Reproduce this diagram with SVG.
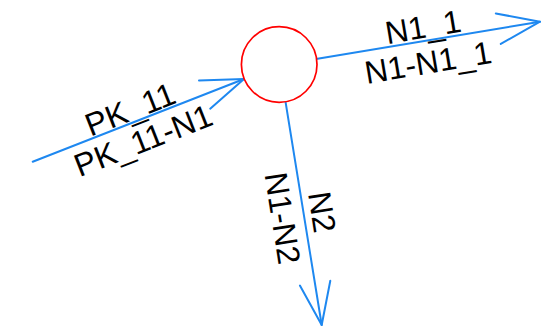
<svg xmlns="http://www.w3.org/2000/svg" width="557" height="330" viewBox="0 0 557 330">
<style>
.c{fill:#fff;stroke:#f00;stroke-width:1.7}
.l{fill:none;stroke:#1e88f0;stroke-width:2;stroke-linecap:round;stroke-linejoin:round}
.t{font-family:"Liberation Sans",Arial,sans-serif;font-size:32px;fill:#000;text-anchor:middle}
</style>
<rect width="557" height="330" fill="#fff"/>
<g id="connectors">
<g id="e1">
<line class="l" x1="32.7" y1="161.7" x2="244" y2="79"/>
<polyline class="l" points="199,80.4 244,79 210.2,108.7"/>
<text class="t" transform="translate(130,109) rotate(-21.4)" y="11.5">PK_11</text>
<text class="t" transform="translate(143,140) rotate(-21.4)" y="11.5">PK_11-N1</text>
</g>
<g id="e2">
<line class="l" x1="316" y1="59" x2="540" y2="21.7"/>
<polyline class="l" points="495.8,13.5 540,21.7 500.8,43.9"/>
<text class="t" transform="translate(423,26.5) rotate(-9.5)" y="11.5">N1_1</text>
<text class="t" transform="translate(428,62) rotate(-9.5)" y="11.5">N1-N1_1</text>
</g>
<g id="e3">
<line class="l" x1="285.5" y1="101.7" x2="321.7" y2="325"/>
<polyline class="l" points="299.9,285.6 321.7,325 330.3,280.8"/>
<text class="t" transform="translate(322.5,212) rotate(81)" y="11.5">N2</text>
<text class="t" transform="translate(283,218) rotate(81)" y="11.5">N1-N2</text>
</g>
</g>
<g id="n1">
<circle class="c" cx="279.2" cy="64.5" r="37.8"/>
</g>
</svg>
